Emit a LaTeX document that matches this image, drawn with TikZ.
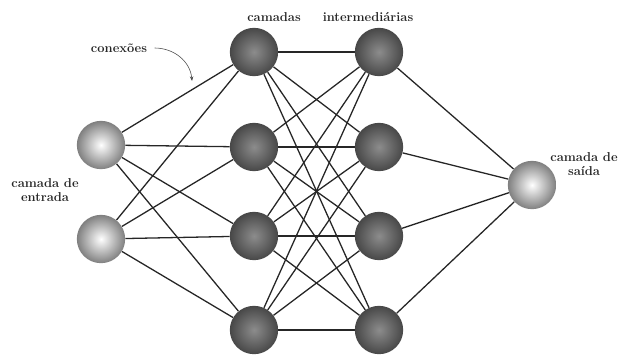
\documentclass[tikz,border=0pt]{standalone}
\usetikzlibrary{arrows.meta,backgrounds}

\tikzset{
    neuronio/.style={circle, inner sep=0pt, minimum size=1.45cm},
    escuro/.style={neuronio, inner color=black!45, outer color=black!72},
    claro/.style={neuronio, inner color=white, outer color=black!50},
    ligacao/.style={line width=1.1pt, draw=black!85},
    rotulo/.style={font=\fontsize{11}{11.5}\selectfont\bfseries, text=black!85, align=center},
}

\begin{document}
\begin{tikzpicture}[x=0.03cm, y=-0.03cm]
    \useasboundingbox (0, 0) rectangle (621, 354);

    % camada de entrada
    \node[claro] (e1) at (101, 145) {};
    \node[claro] (e2) at (101, 239) {};

    % camadas intermediárias
    \foreach \i/\y in {1/52, 2/147, 3/236, 4/330} {
        \node[escuro] (a\i) at (254, \y) {};
        \node[escuro] (b\i) at (379, \y) {};
    }

    % camada de saída
    \node[claro] (s) at (532, 185) {};

    % conexões
    \begin{scope}[on background layer]
        \foreach \i in {1,...,4} {
            \draw[ligacao] (e1) -- (a\i);
            \draw[ligacao] (e2) -- (a\i);
            \foreach \j in {1,...,4}
                \draw[ligacao] (a\i) -- (b\j);
            \draw[ligacao] (b\i) -- (s);
        }
    \end{scope}

    % rótulos
    \node[rotulo] (t1) at (274, 17) {camadas};
    \node[rotulo] (t2) at (368, 17) {intermediárias};
    \node[rotulo] (cx) at (119, 48) {conexões};
    \node[rotulo] (ent) at (45, 190) {camada de\\entrada};
    \node[rotulo] (sai) at (584, 164) {camada de\\saída};

    % seta
    \coordinate (seta) at (192, 81);
    \draw[-{Stealth[length=4pt]}, line width=0.5pt, black!70]
        ([xshift=3pt]cx.east) to[out=0, in=95] (seta);
\end{tikzpicture}
\end{document}
